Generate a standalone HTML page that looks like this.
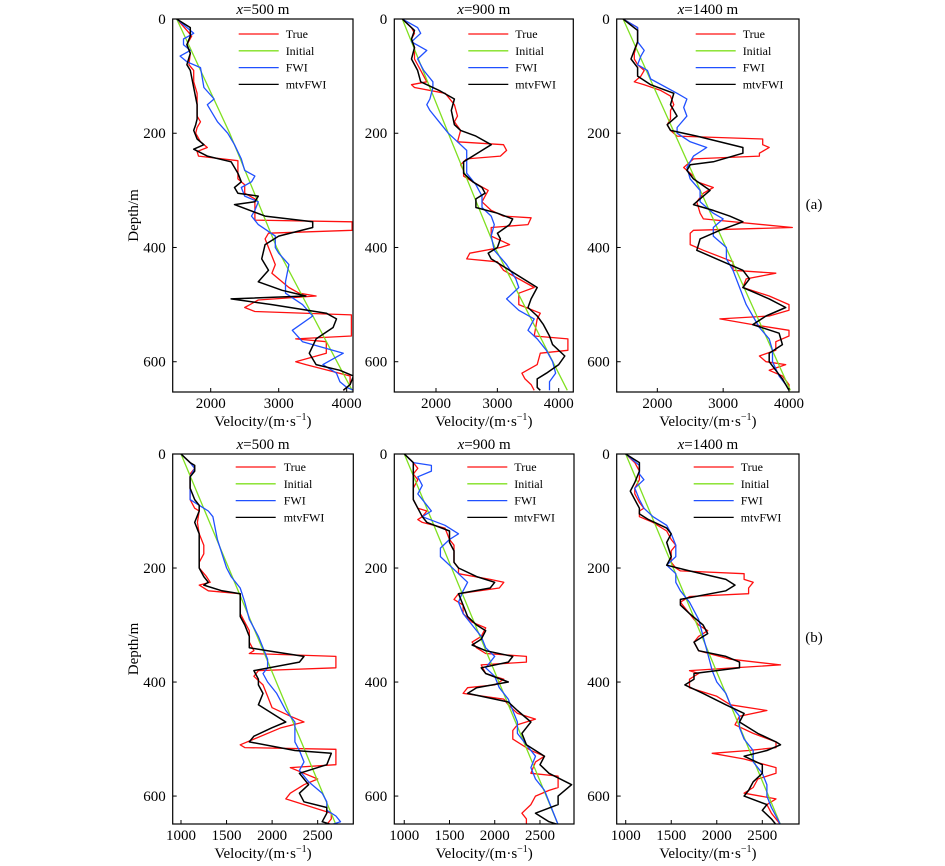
<!DOCTYPE html>
<html><head><meta charset="utf-8"><style>
html,body{margin:0;padding:0;background:#fff}
svg{display:block;font-family:"Liberation Serif",serif}
</style></head><body>
<svg id="fig" width="945" height="866" viewBox="0 0 945 866" xmlns="http://www.w3.org/2000/svg"></svg>
<script>
// ---- data (depth in m, velocity in m/s) ----
const panelTitles = ["500","900","1400","500","900","1400"];
const xTicksTop = [2000,3000,4000];
const xTicksBottom = [1000,1500,2000,2500];
const yTicks = [0,200,400,600];
const seriesNames = ["True","Initial","FWI","mtvFWI"];

const a1True=[[0,1500],[20,1650],[30,1720],[45,1650],[60,1700],[80,1680],[90,1750],[110,1750],[130,1800],[150,1800],[170,1800],[180,1850],[190,1800],[200,1780],[215,1850],[225,1950],[232,1800],[240,1820],[248,2400],[280,2400],[290,2500],[305,2500],[315,2650],[352,2650],[355,4080],[370,4080],[375,2850],[385,2800],[400,2850],[430,2950],[445,2900],[470,3150],[480,3300],[485,3550],[492,2700],[505,2500],[512,2650],[518,4070],[555,4070],[560,3250],[565,3700],[585,3700],[600,3250],[605,3400],[625,4050],[640,4050],[650,3950]];
const a1Init=[[0,1500],[200,2280],[400,2970],[650,4080]];
const a1Fwi=[[0,1500],[15,1650],[25,1750],[35,1600],[45,1600],[55,1700],[65,1550],[75,1650],[85,1850],[120,1900],[140,2050],[150,1950],[160,2000],[180,2100],[200,2250],[220,2350],[245,2450],[265,2500],[275,2650],[285,2600],[295,2450],[310,2500],[320,2700],[335,2650],[345,2600],[360,2700],[380,2950],[400,2950],[410,3000],[430,3150],[460,3100],[480,3100],[500,3350],[520,3500],[545,3200],[565,3350],[585,3950],[605,3650],[620,3850],[635,3900],[645,4000],[650,4100]];
const a1Mtv=[[0,1500],[15,1700],[30,1700],[45,1650],[60,1700],[80,1650],[90,1700],[120,1750],[150,1800],[175,1800],[185,1780],[195,1750],[210,1800],[220,1900],[228,1750],[240,1950],[250,2300],[270,2400],[285,2450],[290,2400],[295,2350],[305,2400],[310,2700],[320,2650],[325,2350],[345,2800],[355,3500],[365,3500],[380,3000],[395,2800],[420,2750],[440,2850],[460,2700],[475,3050],[485,3400],[490,2300],[500,2900],[515,3700],[525,3850],[540,3800],[560,3550],[585,3450],[605,3550],[615,3900],[625,4100],[640,4050],[650,3950]];

const a2True=[[0,1450],[15,1600],[25,1650],[35,1600],[50,1650],[70,1650],[90,1750],[100,1800],[110,1850],[115,1600],[120,1650],[130,2150],[150,2300],[170,2350],[180,2300],[195,2400],[215,2350],[220,3100],[230,3150],[240,3050],[245,2500],[255,2400],[265,2450],[275,2450],[285,2600],[300,2850],[320,2750],[335,2900],[345,3100],[348,3550],[360,3500],[365,2900],[380,2900],[395,3200],[400,3050],[410,2550],[420,2500],[425,3000],[440,3100],[470,3600],[480,3350],[500,3350],[515,3700],[525,3650],[555,3600],[560,4150],[580,4150],[585,3700],[605,3650],[620,3400],[630,3450],[640,3550],[650,3600]];
const a2Init=[[0,1450],[200,2200],[400,2960],[650,4140]];
const a2Fwi=[[0,1450],[15,1700],[25,1750],[40,1600],[55,1850],[70,1700],[90,1800],[110,1950],[120,1950],[140,1900],[150,1850],[160,1900],[180,2050],[200,2200],[220,2400],[230,2500],[270,2500],[290,2650],[310,2750],[330,2750],[345,2900],[360,2950],[380,2900],[405,2950],[430,3150],[455,3300],[470,3350],[490,3150],[510,3350],[525,3600],[545,3500],[560,3650],[580,3800],[600,3900],[620,3950],[635,3850],[650,3850]];
const a2Mtv=[[0,1450],[20,1650],[35,1600],[50,1650],[70,1600],[90,1700],[110,1750],[125,2050],[140,2300],[160,2250],[185,2300],[195,2400],[205,2650],[220,2900],[230,2750],[250,2450],[270,2450],[285,2600],[295,2750],[305,2800],[315,2650],[330,2650],[340,3000],[350,3250],[360,3200],[375,3000],[385,3050],[400,3000],[410,2850],[420,2900],[440,3200],[460,3500],[470,3650],[490,3550],[505,3500],[520,3650],[535,3750],[555,3850],[570,3900],[590,4100],[605,4000],[620,3800],[630,3650],[645,3650],[650,3700]];

const a3True=[[0,1480],[15,1700],[40,1700],[60,1650],[70,1650],[80,1700],[90,1800],[100,1750],[110,1650],[115,1800],[125,2050],[135,2200],[150,2250],[160,2200],[175,2200],[185,2150],[195,2200],[205,2300],[210,3600],[220,3600],[225,3700],[235,3550],[240,3550],[245,2550],[260,2400],[265,2450],[275,2550],[285,2600],[295,2850],[305,2700],[320,2600],[340,2650],[350,2700],[365,4050],[370,2550],[375,2500],[395,2500],[405,2700],[425,3150],[440,3150],[445,3800],[455,3350],[470,3300],[485,3700],[500,4000],[510,4000],[520,3700],[525,2950],[535,3450],[545,4000],[555,4000],[565,3800],[580,3800],[590,3550],[600,3650],[605,3950],[615,3700],[625,3900],[640,4000],[650,4000]];
const a3Init=[[0,1480],[650,4020]];
const a3Fwi=[[0,1480],[15,1700],[40,1700],[55,1800],[65,1750],[80,1700],[90,1850],[105,1900],[130,2300],[140,2450],[155,2400],[170,2450],[190,2300],[200,2300],[215,2500],[225,2750],[240,2550],[260,2450],[280,2500],[300,2650],[320,2650],[340,2850],[350,3000],[365,2850],[380,2850],[400,3050],[420,3050],[440,3150],[470,3250],[500,3350],[520,3450],[540,3550],[560,3700],[580,3750],[600,3750],[625,3850],[640,3950],[650,4000]];
const a3Mtv=[[0,1480],[20,1700],[40,1700],[55,1650],[70,1600],[85,1700],[100,1700],[115,1900],[130,2250],[150,2200],[170,2300],[185,2150],[195,2200],[205,2600],[225,3300],[235,3300],[250,2850],[255,2500],[265,2450],[280,2550],[300,2800],[310,2700],[325,2550],[335,2850],[345,3100],[355,3300],[370,2950],[385,2650],[405,2600],[420,2900],[440,3300],[455,3400],[470,3300],[490,3700],[505,3950],[520,3650],[535,3450],[550,3850],[570,3900],[585,3700],[600,3700],[615,3800],[630,3900],[650,4000]];

const b1True=[[0,1000],[15,1100],[25,1150],[35,1100],[80,1100],[95,1150],[100,1200],[120,1180],[140,1200],[160,1250],[175,1250],[190,1200],[200,1200],[215,1280],[225,1320],[230,1200],[240,1300],[245,1650],[280,1650],[295,1700],[310,1750],[330,1750],[345,1800],[350,1750],[355,2700],[375,2700],[380,1850],[390,1800],[405,1900],[425,1950],[445,2000],[460,2200],[470,2350],[480,2100],[500,1800],[510,1650],[515,1700],[518,2700],[545,2700],[550,2200],[560,2350],[570,2500],[580,2350],[595,2200],[605,2150],[620,2450],[630,2650],[640,2650],[650,2600]];
const b1Init=[[0,1000],[650,2700]];
const b1Fwi=[[0,1000],[15,1100],[25,1150],[40,1100],[80,1100],[90,1200],[100,1300],[110,1350],[150,1400],[175,1450],[200,1500],[215,1550],[235,1650],[260,1700],[290,1750],[320,1850],[340,1900],[360,1950],[375,1950],[385,1900],[400,1950],[420,2050],[450,2150],[470,2250],[505,2250],[520,2300],[540,2350],[555,2300],[575,2400],[595,2550],[610,2600],[625,2600],[635,2700],[645,2750],[650,2650]];
const b1Mtv=[[0,1000],[15,1100],[20,1150],[30,1150],[40,1100],[60,1100],[80,1150],[90,1200],[100,1200],[120,1150],[140,1200],[200,1200],[215,1250],[225,1300],[230,1250],[240,1450],[245,1650],[285,1650],[300,1700],[320,1750],[340,1750],[345,1950],[355,2350],[365,2300],[380,1800],[395,1850],[405,1850],[420,1900],[440,1850],[460,2050],[470,2150],[480,2000],[495,1800],[505,1750],[520,2250],[525,2650],[545,2600],[560,2300],[580,2400],[595,2300],[610,2350],[620,2600],[630,2600],[645,2550],[650,2650]];

const b2True=[[0,1000],[15,1100],[25,1150],[35,1100],[45,1150],[60,1100],[80,1100],[95,1150],[100,1250],[110,1200],[115,1150],[120,1200],[130,1450],[150,1500],[160,1550],[190,1550],[200,1600],[210,1600],[220,1950],[225,2100],[235,2050],[245,1600],[255,1550],[265,1650],[280,1650],[295,1750],[305,1900],[320,1850],[330,1750],[340,1800],[350,1900],[355,2350],[365,2350],[370,1850],[385,1900],[395,2100],[405,2000],[410,1700],[420,1650],[430,2100],[440,2150],[455,2250],[465,2450],[475,2250],[485,2200],[500,2200],[520,2400],[530,2550],[540,2450],[560,2400],[565,2700],[585,2700],[590,2600],[600,2450],[615,2400],[630,2300],[640,2350],[650,2350]];
const b2Init=[[0,1000],[650,2700]];
const b2Fwi=[[0,1000],[15,1100],[20,1300],[30,1300],[40,1150],[55,1200],[70,1150],[90,1250],[100,1300],[110,1200],[125,1450],[140,1600],[150,1500],[165,1400],[180,1400],[195,1500],[210,1600],[225,1700],[240,1650],[260,1600],[280,1650],[300,1750],[320,1850],[340,1900],[355,2000],[375,1900],[390,2000],[410,2050],[430,2150],[450,2200],[470,2250],[490,2250],[510,2350],[530,2450],[550,2400],[570,2450],[590,2550],[610,2600],[630,2650],[650,2700]];
const b2Mtv=[[0,1000],[15,1100],[80,1100],[95,1150],[110,1200],[120,1250],[135,1500],[155,1500],[170,1550],[190,1550],[200,1600],[215,1800],[225,2000],[235,1950],[245,1600],[265,1650],[285,1700],[300,1800],[310,1900],[325,1850],[335,1750],[345,1900],[355,2200],[365,2150],[375,1850],[385,1900],[400,2150],[410,1800],[420,1700],[435,2150],[450,2250],[470,2400],[480,2350],[490,2300],[510,2350],[530,2550],[545,2500],[560,2600],[580,2850],[600,2700],[615,2700],[630,2450],[645,2600],[650,2700]];

const b3True=[[0,1000],[15,1100],[30,1150],[45,1150],[60,1100],[70,1100],[85,1150],[95,1200],[100,1150],[110,1150],[120,1300],[135,1450],[150,1500],[160,1550],[170,1500],[190,1500],[200,1550],[205,1600],[210,2300],[220,2300],[225,2400],[235,2350],[245,2350],[250,1700],[260,1600],[270,1650],[280,1700],[290,1750],[300,1800],[310,1900],[320,1800],[330,1750],[345,1800],[360,2150],[370,2700],[380,1700],[385,1800],[395,1700],[410,1700],[425,2000],[440,2150],[450,2550],[460,2250],[475,2200],[490,2400],[505,2650],[515,2650],[520,2350],[525,1950],[535,2300],[550,2650],[560,2650],[570,2450],[585,2400],[595,2300],[605,2650],[615,2550],[630,2600],[650,2700]];
const b3Init=[[0,1000],[650,2700]];
const b3Fwi=[[0,1000],[20,1150],[35,1150],[45,1200],[60,1100],[80,1150],[95,1200],[110,1300],[125,1450],[140,1500],[160,1550],[180,1550],[195,1450],[210,1550],[225,1550],[240,1600],[260,1700],[290,1800],[320,1850],[350,1900],[380,1950],[400,2000],[420,2100],[440,2150],[460,2250],[480,2250],[500,2300],[520,2400],[540,2400],[560,2500],[580,2550],[600,2550],[620,2600],[650,2700]];
const b3Mtv=[[0,1000],[15,1150],[30,1150],[50,1100],[65,1050],[80,1100],[95,1150],[105,1150],[115,1250],[130,1450],[140,1500],[155,1450],[180,1500],[195,1450],[205,1700],[220,2100],[230,2200],[240,2100],[255,1600],[265,1600],[280,1700],[300,1850],[315,1900],[330,1750],[345,1800],[355,2100],[365,2250],[375,2250],[385,1750],[395,1750],[405,1650],[420,1850],[440,2100],[455,2300],[470,2250],[490,2450],[505,2650],[510,2700],[520,2550],[530,2300],[545,2500],[560,2500],[575,2400],[590,2350],[600,2300],[615,2550],[625,2500],[640,2600],[650,2650]];

// ---- layout ----
const NS="http://www.w3.org/2000/svg";
const svg=document.getElementById('fig');
const colors=["#ff1010","#80e020","#2050ff","#000000"];
const panels=[
 {L:172.7,R:353,T:19,B:392,vmin:1441,vmax:4093,dmax:653,ticks:xTicksTop,s:[a1True,a1Init,a1Fwi,a1Mtv],leg:[66,113],legY:34,left:true},
 {L:394.3,R:573.3,T:19,B:392,vmin:1320,vmax:4238,dmax:653,ticks:xTicksTop,s:[a2True,a2Init,a2Fwi,a2Mtv],leg:[74,121],legY:34},
 {L:616.7,R:799,T:19,B:392,vmin:1383,vmax:4152,dmax:653,ticks:xTicksTop,s:[a3True,a3Init,a3Fwi,a3Mtv],leg:[79,126],legY:34},
 {L:172.7,R:353.3,T:454,B:824,vmin:909,vmax:2891,dmax:649,ticks:xTicksBottom,s:[b1True,b1Init,b1Fwi,b1Mtv],leg:[63,111],legY:467,left:true},
 {L:394.3,R:574,T:454,B:824,vmin:890,vmax:2876,dmax:649,ticks:xTicksBottom,s:[b2True,b2Init,b2Fwi,b2Mtv],leg:[73,120],legY:467},
 {L:616.7,R:799,T:454,B:824,vmin:901,vmax:2903,dmax:649,ticks:xTicksBottom,s:[b3True,b3Init,b3Fwi,b3Mtv],leg:[77,124],legY:467}
];
function mk(tag,attrs,parent){const e=document.createElementNS(NS,tag);for(const k in attrs)e.setAttribute(k,attrs[k]);(parent||svg).appendChild(e);return e;}
function txt(x,y,s,size,anchor,parent){const t=mk('text',{x:x,y:y,'font-size':size,'text-anchor':anchor||'middle',fill:'#000'},parent);t.textContent=s;return t;}

panels.forEach((p,i)=>{
  const g=mk('g',{});
  
  
  const xs=v=>p.L+(v-p.vmin)/(p.vmax-p.vmin)*(p.R-p.L);
  const ys=d=>p.T+d/p.dmax*(p.B-p.T);
  const clip='clip'+i;
  const cp=mk('clipPath',{id:clip},g);mk('rect',{x:p.L,y:p.T,width:p.R-p.L,height:p.B-p.T},cp);
  p.s.forEach((arr,k)=>{
    const pl=mk('polyline',{points:arr.map(q=>xs(q[1]).toFixed(1)+','+ys(q[0]).toFixed(1)).join(' '),fill:'none',stroke:colors[k],'stroke-width':k==3?1.5:1.3,'stroke-linejoin':'round','clip-path':'url(#'+clip+')'},g);
    
    
  });
  const fr=mk('rect',{x:p.L,y:p.T,width:p.R-p.L,height:p.B-p.T,fill:'none',stroke:'#000','stroke-width':1.2},g);
  
  
  p.ticks.forEach(v=>{
    const x=xs(v);
    mk('line',{x1:x,x2:x,y1:p.B,y2:p.B-4,stroke:'#000','stroke-width':1},g);
    const t=txt(x,p.B+16,String(v),15,'middle',g);
    
    
  });
  yTicks.forEach(d=>{
    const y=ys(d);
    mk('line',{x1:p.L,x2:p.L+4,y1:y,y2:y,stroke:'#000','stroke-width':1},g);
    const t=txt(p.L-7,y+5,String(d),15,'end',g);
    
    
  });
  const tt=mk('text',{x:(p.L+p.R)/2,y:p.T-5,'font-size':15,'text-anchor':'middle'},g);
  tt.innerHTML='<tspan font-style="italic">x</tspan>='+panelTitles[i]+' m';
  
  
  const xl=mk('text',{x:(p.L+p.R)/2,y:p.B+34,'font-size':15,'text-anchor':'middle'},g);
  xl.innerHTML='Velocity/(m·s<tspan dy="-6" font-size="10">−1</tspan><tspan dy="6">)</tspan>';
  
  
  if(p.left){
    const cy=(p.T+p.B)/2+10;
    const yl=txt(0,0,'Depth/m',15,'middle',g);
    yl.setAttribute('transform','translate(138,'+cy+') rotate(-90)');
    
    
  }
  seriesNames.forEach((n,k)=>{
    const y=p.legY+k*16.8;
    const lg=mk('g',{},g);
    
    
    mk('line',{x1:p.L+p.leg[0],x2:p.L+p.leg[0]+40,y1:y,y2:y,stroke:colors[k],'stroke-width':1.3},lg);
    txt(p.L+p.leg[1],y+4,n,12,'start',lg);
  });
});
const la=txt(814,209,'(a)',15,'middle');


const lb=txt(814,642,'(b)',15,'middle');


</script>
</body></html>
